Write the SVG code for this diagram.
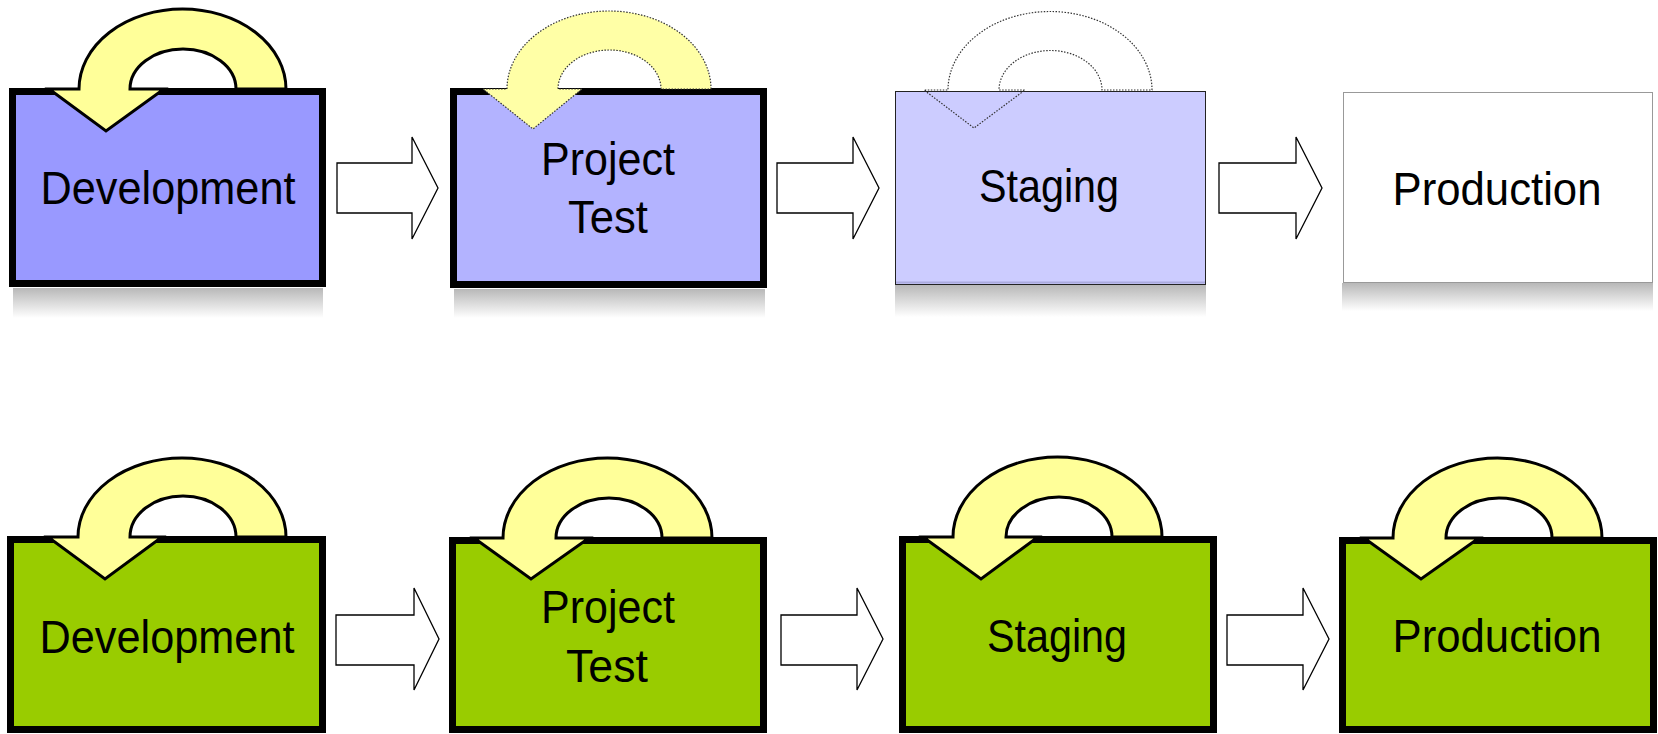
<svg xmlns="http://www.w3.org/2000/svg" width="1658" height="734" viewBox="0 0 1658 734">
<defs>
<linearGradient id="shad" x1="0" y1="0" x2="0" y2="1">
<stop offset="0" stop-color="#b8b8b8"/>
<stop offset="1" stop-color="#ffffff"/>
</linearGradient>
</defs>
<style>
.lbl{font-family:"Liberation Sans",Arial,sans-serif;font-size:46px;fill:#000;text-anchor:middle}
.thick{stroke:#000;stroke-width:7}
.loop{fill:#ffff99;stroke:#000;stroke-width:3;stroke-linejoin:miter}
.loopdot{fill:#ffffa6;stroke:#333;stroke-width:1.2;stroke-dasharray:1.5 1.5}
.loopghost{fill:none;stroke:#333;stroke-width:1.2;stroke-dasharray:1.5 1.5}
.blk{fill:#fff;stroke:#000;stroke-width:1.3}
.shadow{fill:url(#shad)}
</style>
<rect width="1658" height="734" fill="#fff"/>

<g id="connectors">
<polygon class="blk" points="337,163 412,163 412,137 438,188 412,239 412,213 337,213"/>
<polygon class="blk" points="777,163 853,163 853,137 879,188 853,239 853,213 777,213"/>
<polygon class="blk" points="1219,163 1296,163 1296,137 1322,188 1296,239 1296,213 1219,213"/>
<polygon class="blk" points="336,615 414,615 414,588 439,639 414,690 414,665 336,665"/>
<polygon class="blk" points="781,615 857,615 857,588 883,639 857,690 857,665 781,665"/>
<polygon class="blk" points="1227,615 1303,615 1303,588 1329,639 1303,690 1303,665 1227,665"/>
</g>

<g id="top-development">
<rect class="shadow" x="13" y="288" width="310" height="30"/>
<rect class="thick" x="12.5" y="91.5" width="310" height="192" fill="#9999ff"/>
<path class="loop" d="M286,89 A103.5,80 0 0 0 79,89 L49,89 L106,131 L164,89 L130,89 A53,40 0 0 1 236,89 Z"/>
<text class="lbl" x="168" y="204" textLength="255" lengthAdjust="spacingAndGlyphs">Development</text>
</g>

<g id="top-project-test">
<rect class="shadow" x="454" y="289" width="311" height="29"/>
<rect class="thick" x="453.5" y="91.5" width="310" height="193" fill="#b3b3ff"/>
<path class="loopdot" d="M711,89 A102,78 0 0 0 507,89 L483,89 L533,129 L582,89 L558,89 A51.5,39 0 0 1 661,89 Z"/>
<text class="lbl" x="608" y="175" textLength="134" lengthAdjust="spacingAndGlyphs">Project</text>
<text class="lbl" x="608" y="233" textLength="80" lengthAdjust="spacingAndGlyphs">Test</text>
</g>

<g id="top-staging">
<rect class="shadow" x="895" y="285" width="311" height="32"/>
<rect x="895.5" y="91.5" width="310" height="193" fill="#ccccff" stroke="#222" stroke-width="1"/>
<line x1="896" y1="282.5" x2="1205" y2="282.5" stroke="#aaaadd" stroke-width="2"/>
<path class="loopghost" d="M1152,90 A102,78.5 0 0 0 948,90 L924,90 L974,128 L1025,90 L999,90 A51.5,39.5 0 0 1 1102,90 Z"/>
<text class="lbl" x="1049" y="202" textLength="140" lengthAdjust="spacingAndGlyphs">Staging</text>
</g>

<g id="top-production">
<rect class="shadow" x="1342" y="283" width="311" height="28"/>
<rect x="1343.5" y="92.5" width="309" height="190" fill="#fff" stroke="#333" stroke-width="1" stroke-dasharray="1 1"/>
<text class="lbl" x="1497" y="205" textLength="209" lengthAdjust="spacingAndGlyphs">Production</text>
</g>

<g id="bottom-development">
<rect class="thick" x="10.5" y="539.5" width="312" height="190" fill="#99cc00"/>
<path class="loop" d="M286,537 A104,79 0 0 0 78,537 L48,537 L105,579 L162,537 L130,537 A53,41 0 0 1 236,537 Z"/>
<text class="lbl" x="167" y="653" textLength="255" lengthAdjust="spacingAndGlyphs">Development</text>
</g>

<g id="bottom-project-test">
<rect class="thick" x="452.5" y="540.5" width="311" height="189" fill="#99cc00"/>
<path class="loop" d="M712,538 A104.5,80 0 0 0 503,538 L474,538 L531,579 L589,538 L556,538 A53,40 0 0 1 662,538 Z"/>
<text class="lbl" x="608" y="623" textLength="134" lengthAdjust="spacingAndGlyphs">Project</text>
<text class="lbl" x="607" y="682" textLength="82" lengthAdjust="spacingAndGlyphs">Test</text>
</g>

<g id="bottom-staging">
<rect class="thick" x="902.5" y="539.5" width="311" height="190" fill="#99cc00"/>
<path class="loop" d="M1162,537 A104.5,80 0 0 0 953,537 L923,537 L981,579 L1038,537 L1006,537 A53,40 0 0 1 1112,537 Z"/>
<text class="lbl" x="1057" y="652" textLength="140" lengthAdjust="spacingAndGlyphs">Staging</text>
</g>

<g id="bottom-production">
<rect class="thick" x="1342.5" y="540.5" width="311" height="189" fill="#99cc00"/>
<path class="loop" d="M1602,538 A104.5,80 0 0 0 1393,538 L1364,538 L1421,579 L1479,538 L1446,538 A53,40 0 0 1 1552,538 Z"/>
<text class="lbl" x="1497" y="652" textLength="209" lengthAdjust="spacingAndGlyphs">Production</text>
</g>
</svg>
